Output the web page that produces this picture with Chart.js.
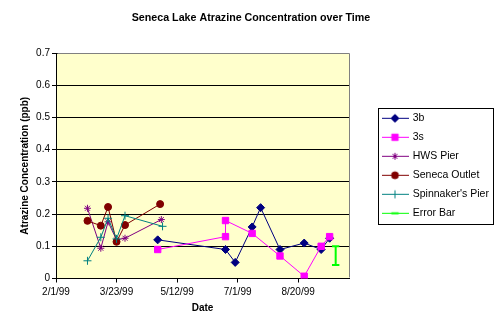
<!DOCTYPE html>
<html>
<head>
<meta charset="utf-8">
<script src="https://cdn.jsdelivr.net/npm/chart.js"></script>
<style>
    body { margin: 0; background: #fff; }
    canvas { display: block; }
</style>
</head>
<body>
<canvas id="atrazineChart" width="502" height="334"></canvas>
<script>
// sample dates (m/d/yy) and concentrations (ppb)
const dates3b = ['4/26/99', '6/21/99', '6/29/99', '7/13/99', '7/20/99', '8/5/99', '8/25/99', '9/8/99', '9/15/99'];
const values3b = [0.12, 0.09, 0.05, 0.16, 0.22, 0.09, 0.11, 0.09, 0.125];

const dates3s = ['4/26/99', '6/21/99', '6/21/99', '7/13/99', '8/5/99', '8/25/99', '9/8/99', '9/15/99'];
const values3s = [0.09, 0.13, 0.18, 0.14, 0.07, 0.007, 0.10, 0.13];

const datesHws = ['2/27/99', '3/10/99', '3/16/99', '3/23/99', '3/30/99', '4/29/99'];
const valuesHws = [0.218, 0.094, 0.176, 0.12, 0.125, 0.183];

const datesOutlet = ['2/27/99', '3/10/99', '3/16/99', '3/23/99', '3/30/99', '4/28/99'];
const valuesOutlet = [0.179, 0.164, 0.222, 0.114, 0.166, 0.231];

const datesSpinnaker = ['2/27/99', '3/10/99', '3/16/99', '3/23/99', '3/30/99', '4/30/99'];
const valuesSpinnaker = [0.055, 0.128, 0.187, 0.123, 0.195, 0.162];

const datesErrorBar = ['9/20/99', '9/20/99'];
const valuesErrorBar = [0.042, 0.1];

const seriesNames = ['3b', '3s', 'HWS Pier', 'Seneca Outlet', "Spinnaker's Pier", 'Error Bar'];

// x axis runs in days from 2/1/99
const baseDate = Date.UTC(1999, 1, 1);
const axisMaxDay = 242;
const dayStep = 50;

function toDay(s) {
    const p = s.split('/').map(Number);
    return Math.round((Date.UTC(1900 + p[2], p[0] - 1, p[1]) - baseDate) / 86400000);
}

function dayLabel(v) {
    const d = new Date(baseDate + v * 86400000);
    return (d.getUTCMonth() + 1) + '/' + d.getUTCDate() + '/' + String(d.getUTCFullYear()).slice(2);
}

function points(dates, values) {
    return dates.map((s, i) => ({ x: toDay(s), y: values[i] }));
}

// little line + marker pictures for the legend, like the spreadsheet one
function legendSample(color, style, radius, lw) {
    const c = document.createElement('canvas');
    c.width = 27;
    c.height = 11;
    const g = c.getContext('2d');
    g.strokeStyle = color;
    g.fillStyle = color;
    g.lineWidth = 1;
    g.beginPath();
    g.moveTo(0, 5.5);
    g.lineTo(27, 5.5);
    g.stroke();
    g.lineWidth = lw;
    if (Chart.helpers && Chart.helpers.drawPoint) {
        Chart.helpers.drawPoint(g, { pointStyle: style, radius: radius, rotation: 0, borderWidth: lw }, 13.5, 5.5);
    } else {
        g.fillRect(11, 3, 5, 5);
    }
    return c;
}

function series(label, dates, values, color, style, radius, lw) {
    return {
        label: label,
        data: points(dates, values),
        showLine: true,
        borderColor: color,
        backgroundColor: color,
        borderWidth: lw,
        pointStyle: style,
        pointRadius: radius,
        pointBorderWidth: lw,
        pointBackgroundColor: color,
        pointBorderColor: color,
        legendImg: legendSample(color, style, radius, lw)
    };
}

const datasets = [
    series(seriesNames[0], dates3b, values3b, '#000080', 'rectRot', 4, 1),
    series(seriesNames[1], dates3s, values3s, '#FF00FF', 'rect', 4.5, 1),
    series(seriesNames[2], datesHws, valuesHws, '#800080', 'star', 3.5, 1),
    series(seriesNames[3], datesOutlet, valuesOutlet, '#800000', 'circle', 3.5, 1),
    series(seriesNames[4], datesSpinnaker, valuesSpinnaker, '#008080', 'cross', 4, 1),
    series(seriesNames[5], datesErrorBar, valuesErrorBar, '#00FF00', 'line', 3.7, 2)
];
// later series painted over earlier ones
datasets.forEach((ds, i) => { ds.order = datasets.length - i; });

Chart.defaults.font.family = "'Liberation Sans', Arial, sans-serif";
Chart.defaults.color = '#000';

// legend takes the space right of the plot
const legendWidth = {
    id: 'legendWidth',
    beforeInit(chart) {
        const fit = chart.legend.fit;
        chart.legend.fit = function () {
            fit.call(chart.legend);
            this.width = 128;
        };
    }
};

const plotFrame = {
    id: 'plotFrame',
    beforeDraw(chart) {
        const { ctx, chartArea } = chart;
        ctx.save();
        ctx.fillStyle = '#fff';
        ctx.fillRect(0, 0, chart.width, chart.height);
        ctx.fillStyle = '#FFFFCC';
        ctx.fillRect(chartArea.left, chartArea.top, chartArea.right - chartArea.left, chartArea.bottom - chartArea.top);
        ctx.restore();
    },
    afterDraw(chart) {
        const { ctx, chartArea } = chart;
        const top = Math.round(chartArea.top - 0.5) + 0.5;
        const right = Math.round(chartArea.right - 0.5) + 0.5;
        const bottom = Math.round(chartArea.bottom - 0.5) + 0.5;
        const left = Math.round(chartArea.left - 0.5) + 0.5;
        ctx.save();
        ctx.lineWidth = 1;
        ctx.strokeStyle = '#808080';
        ctx.beginPath();
        ctx.moveTo(left + 1, top);
        ctx.lineTo(right, top);
        ctx.lineTo(right, bottom - 1);
        ctx.stroke();

        // legend frame
        const lg = chart.legend;
        const hb = lg.legendHitBoxes;
        if (hb && hb.length) {
            const last = hb[hb.length - 1];
            const x0 = Math.round(lg.left + 4) + 0.5;
            const x1 = Math.round(lg.left + 119) + 0.5;
            const y0 = Math.round(hb[0].top - 5) + 0.5;
            const y1 = Math.round(last.top + last.height + 5) + 0.5;
            ctx.strokeStyle = '#000';
            ctx.strokeRect(x0, y0, x1 - x0, y1 - y0);
        }
        ctx.restore();
    }
};

var ctx = document.getElementById('atrazineChart');

const atrazineChart = new Chart(ctx, {
    type: 'scatter',
    data: { datasets: datasets },
    options: {
        responsive: false,
        animation: false,
        devicePixelRatio: 1,
        layout: { padding: 0 },
        plugins: {
            title: {
                display: true,
                text: 'Seneca Lake Atrazine Concentration over Time',
                color: '#000',
                font: { size: 10.7, weight: 'bold' },
                padding: { top: 12, bottom: 28.2 }
            },
            legend: {
                position: 'right',
                fullSize: false,
                labels: {
                    usePointStyle: true,
                    pointStyleWidth: 25,
                    padding: 8.5,
                    color: '#000',
                    font: { size: 10.5 },
                    generateLabels: function (chart) {
                        return chart.data.datasets.map((ds, i) => ({
                            text: ds.label,
                            pointStyle: ds.legendImg,
                            datasetIndex: i,
                            hidden: false,
                            lineWidth: 0,
                            fillStyle: 'transparent',
                            strokeStyle: 'transparent'
                        }));
                    }
                }
            },
            tooltip: { enabled: false }
        },
        scales: {
            x: {
                type: 'linear',
                min: 0,
                max: axisMaxDay,
                afterFit: function (scale) { scale.height = 55.5; },
                ticks: {
                    stepSize: dayStep,
                    includeBounds: false,
                    padding: 4,
                    maxRotation: 0,
                    font: { size: 10 },
                    callback: function (value) { return dayLabel(value); }
                },
                grid: {
                    display: true,
                    drawOnChartArea: false,
                    drawTicks: true,
                    tickLength: 4,
                    color: '#000'
                },
                border: { display: true, color: '#000', width: 1 },
                title: {
                    display: true,
                    text: 'Date',
                    font: { size: 10, weight: 'bold' },
                    padding: { top: 0, bottom: 20 }
                }
            },
            y: {
                min: 0,
                max: 0.7,
                afterFit: function (scale) { scale.width = 56; },
                ticks: {
                    stepSize: 0.1,
                    padding: 2,
                    font: { size: 10 }
                },
                grid: {
                    color: '#000',
                    lineWidth: 1,
                    drawTicks: true,
                    tickLength: 4
                },
                border: { display: true, color: '#000', width: 1 },
                title: {
                    display: true,
                    text: 'Atrazine Concentration (ppb)',
                    font: { size: 10, weight: 'bold' },
                    padding: { top: 19, bottom: 0 }
                }
            },
            // empty spacer between plot and legend
            spacer: {
                type: 'linear',
                position: 'right',
                display: true,
                afterFit: function (scale) { scale.width = 25; },
                ticks: { display: false },
                grid: { display: false },
                border: { display: false }
            }
        }
    },
    plugins: [legendWidth, plotFrame]
});
</script>
</body>
</html>
